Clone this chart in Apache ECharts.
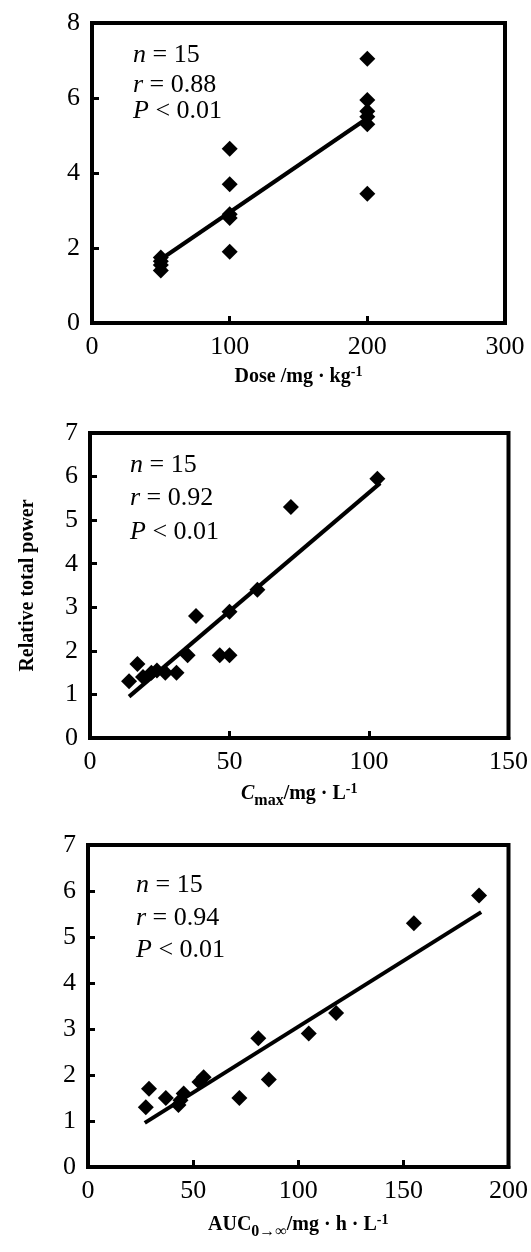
<!DOCTYPE html>
<html>
<head>
<meta charset="utf-8">
<script src="https://cdn.jsdelivr.net/npm/echarts@6/dist/echarts.min.js"></script>
<style>
  html, body { margin: 0; padding: 0; background: #fff; }
  #main { width: 531px; height: 1252px; }
</style>
</head>
<body>
<div id="main"></div>
<script>
// 剂量 panel
var doseX = [50, 50, 50, 50, 100, 100, 100, 100, 100, 200, 200, 200, 200, 200, 200];
var doseY = [1.75, 1.65, 1.55, 1.4, 4.65, 3.7, 2.9, 2.8, 1.9, 7.05, 5.95, 5.65, 5.5, 5.3, 3.45];
var doseFitX = [50, 200];
var doseFitY = [1.7, 5.46];

// Cmax panel
var cmaxX = [14, 17, 19, 22, 24, 27, 31, 35, 38, 46.5, 50, 50, 60, 72, 103];
var cmaxY = [1.3, 1.7, 1.4, 1.5, 1.55, 1.5, 1.5, 1.9, 2.8, 1.9, 1.9, 2.9, 3.4, 5.3, 5.95];
var cmaxFitX = [14, 104];
var cmaxFitY = [0.95, 5.85];

// AUC panel
var aucX = [27.5, 29, 37, 43, 44, 45.5, 53, 55, 72, 81, 86, 105, 118, 155, 186];
var aucY = [1.3, 1.7, 1.5, 1.35, 1.45, 1.6, 1.85, 1.95, 1.5, 2.8, 1.9, 2.9, 3.35, 5.3, 5.9];
var aucFitX = [27, 187];
var aucFitY = [0.96, 5.54];

// 注释文字
var statN = ["15", "15", "15"];
var statR = ["0.88", "0.92", "0.94"];
var statP = ["0.01", "0.01", "0.01"];

var FONT = "Liberation Serif";

function pairs(xs, ys) {
    return xs.map(function (x, i) { return [x, ys[i]]; });
}

function xAxisOf(idx, max, interval, name, rich, gap) {
    return {
        type: "value", gridIndex: idx, min: 0, max: max, interval: interval,
        name: name, nameLocation: "middle", nameGap: gap,
        nameTextStyle: { rich: rich },
        axisLine: { lineStyle: { color: "#000", width: 4 } },
        axisTick: { inside: true, length: 7, lineStyle: { color: "#000", width: 3 } },
        axisLabel: { margin: 11, color: "#000", fontFamily: FONT, fontSize: 26 },
        splitLine: { show: false }
    };
}

function yAxisOf(idx, max, interval, name) {
    return {
        type: "value", gridIndex: idx, min: 0, max: max, interval: interval,
        name: name || "", nameLocation: "middle", nameGap: 52,
        nameTextStyle: { fontFamily: FONT, fontSize: 20, fontWeight: "bold", color: "#000" },
        axisLine: { lineStyle: { color: "#000", width: 4 } },
        axisTick: { inside: true, length: 7, lineStyle: { color: "#000", width: 3 } },
        axisLabel: { margin: 12, color: "#000", fontFamily: FONT, fontSize: 26 },
        splitLine: { show: false }
    };
}

var nameRich = {
    b: { fontFamily: FONT, fontSize: 20, fontWeight: "bold", color: "#000", lineHeight: 24 },
    bi: { fontFamily: FONT, fontSize: 20, fontWeight: "bold", fontStyle: "italic", color: "#000", lineHeight: 24 },
    sub: { fontFamily: FONT, fontSize: 16, fontWeight: "bold", color: "#000", verticalAlign: "bottom", lineHeight: 24, padding: [0, 0, -3, 0] },
    sup: { fontFamily: FONT, fontSize: 14, fontWeight: "bold", color: "#000", verticalAlign: "top", lineHeight: 24, padding: [0, 0, 8, 0] }
};

function scatter(idx, xs, ys) {
    return {
        type: "scatter", xAxisIndex: idx, yAxisIndex: idx,
        symbol: "diamond", symbolSize: 16,
        itemStyle: { color: "#000", opacity: 1 },
        data: pairs(xs, ys), z: 3
    };
}

function fitLine(idx, xs, ys) {
    return {
        type: "line", xAxisIndex: idx, yAxisIndex: idx,
        showSymbol: false, symbol: "none",
        lineStyle: { color: "#000", width: 4 },
        data: pairs(xs, ys), z: 2
    };
}

var statRich = {
    i: { fontFamily: FONT, fontSize: 26, fontStyle: "italic", color: "#000" },
    t: { fontFamily: FONT, fontSize: 26, color: "#000" }
};

function statText(x, y, label, rel, val) {
    return {
        type: "text", x: x, y: y,
        style: {
            text: "{i|" + label + "}{t| " + rel + " " + val + "}",
            rich: statRich, verticalAlign: "middle"
        }
    };
}

var texts = [];
var statPos = [[133, [55, 85, 111]], [130, [465, 498, 532]], [136, [885, 918, 950]]];
statPos.forEach(function (p, k) {
    texts.push(statText(p[0], p[1][0], "n", "=", statN[k]));
    texts.push(statText(p[0], p[1][1], "r", "=", statR[k]));
    texts.push(statText(p[0], p[1][2], "P", "<", statP[k]));
});

var myChart = echarts.init(document.getElementById("main"), null, { renderer: "canvas" });
myChart.setOption({
    backgroundColor: "#fff",
    animation: false,
    grid: [
        { left: 92, top: 23, width: 413, height: 300, show: true, borderColor: "#000", borderWidth: 4 },
        { left: 90, top: 433, width: 420, height: 305, show: true, borderColor: "#000", borderWidth: 4 },
        { left: 88, top: 845, width: 422, height: 322, show: true, borderColor: "#000", borderWidth: 4 }
    ],
    xAxis: [
        xAxisOf(0, 300, 100, "{b|Dose /mg · kg}{sup|-1}", nameRich, 42),
        xAxisOf(1, 150, 50, "{bi|C}{sub|max}{b|/mg · L}{sup|-1}", nameRich, 44),
        xAxisOf(2, 200, 50, "{b|AUC}{sub|0→∞}{b|/mg · h · L}{sup|-1}", nameRich, 46)
    ],
    yAxis: [
        yAxisOf(0, 8, 2),
        yAxisOf(1, 7, 1, "Relative total power"),
        yAxisOf(2, 7, 1)
    ],
    graphic: texts,
    series: [
        fitLine(0, doseFitX, doseFitY),
        scatter(0, doseX, doseY),
        fitLine(1, cmaxFitX, cmaxFitY),
        scatter(1, cmaxX, cmaxY),
        fitLine(2, aucFitX, aucFitY),
        scatter(2, aucX, aucY)
    ]
});
</script>
</body>
</html>
